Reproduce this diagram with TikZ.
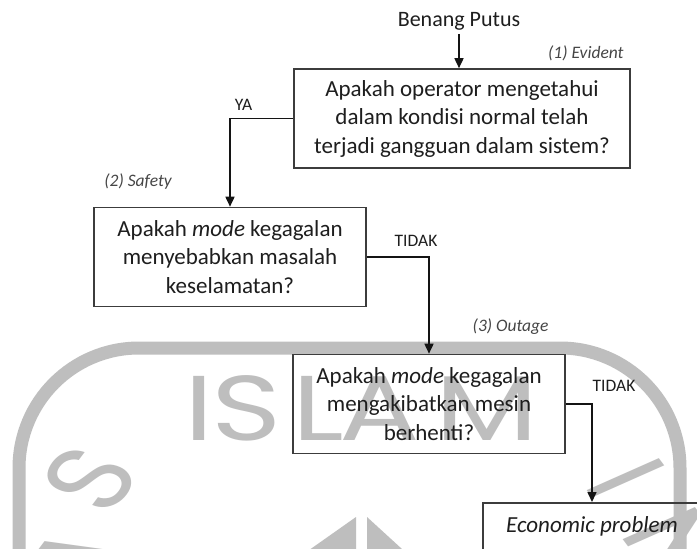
\documentclass[tikz,border=0pt]{standalone}
\usepackage{fontspec}
\setmainfont{Carlito}
\newfontfamily\wmfont{Poppins}
\usepackage{tikz}
\usetikzlibrary{arrows.meta, positioning}
\definecolor{LineColor}{RGB}{20, 20, 20}
\definecolor{BoxLine}{RGB}{60, 60, 60}
\definecolor{TextColor}{RGB}{30, 30, 30}
\definecolor{TagColor}{RGB}{70, 70, 70}
\definecolor{WmGrey}{RGB}{190, 190, 190}

\begin{document}
\begin{tikzpicture}[
        x=1pt, y=-1pt,
        % Styles globaux
        base/.style={align=center, inner sep=0pt},
        % Boites de question
        box_q/.style={base, draw=BoxLine, line width=1.6pt, minimum height=99pt, text=TextColor, font=\fontsize{23}{28.5}\selectfont},
        % Etiquettes (1), (2), (3)
        tag/.style={base, text=TagColor, font=\fontsize{17.5}{20}\itshape\selectfont},
        % Reponses YA / TIDAK
        answer/.style={base, anchor=base, text=TextColor, font=\fontsize{17.5}{20}\selectfont},
        % Fleches
        arrow/.style={-{Triangle[length=10pt, width=9pt]}, line width=1.6pt, LineColor},
        % Filigrane
        wmark/.style={WmGrey, line width=13pt},
        wmletter/.style={inner sep=0pt, xscale=1.3, text=WmGrey, font=\wmfont\fontsize{92}{92}\selectfont}
    ]

    \path[use as bounding box, fill=white] (0,0) rectangle (697,549);
    \clip (0,0) rectangle (697,549);

    % --- FILIGRANE ---
    \draw[wmark, rounded corners=120pt] (19,600) -- (19,348) -- (680,348) -- (680,600);
    \foreach \ch/\xx in {I/199, S/246.5, L/318, A/380, M/486.5}
        \node[wmletter, anchor=base] at (\xx,440) {\ch};
    \node[wmletter, rotate=60] at (90,479) {S};
    \node[wmletter, rotate=60] at (78,562) {A};
    \node[wmletter, rotate=-60] at (626,478) {I};
    \node[wmletter, rotate=-60] at (676,545) {N};
    \fill[WmGrey] (356,517) -- (356,560) -- (295,560) -- cycle;
    \fill[WmGrey] (367,517) -- (414,560) -- (367,560) -- cycle;

    % --- QUESTIONS ---
    \node[base, anchor=base, inner ysep=4pt, text=TextColor, font=\fontsize{22}{26}\selectfont] (start) at (459,26) {Benang Putus};
    \node[box_q, minimum width=336pt] (q1) at (462,118.5) {Apakah operator mengetahui\\dalam kondisi normal telah\\terjadi gangguan dalam sistem?};
    \node[box_q, minimum width=272pt] (q2) at (230,257) {Apakah \textit{mode} kegagalan\\menyebabkan masalah\\keselamatan?};
    \node[box_q, minimum width=272pt] (q3) at (429,404) {Apakah \textit{mode} kegagalan\\mengakibatkan mesin\\berhenti?};
    \node[box_q, anchor=north, minimum width=218pt, minimum height=0pt, inner ysep=13.5pt, text height=16pt, text depth=20pt] (econ) at (592,502) {\textit{Economic problem}};

    % --- ETIQUETTES ---
    \node[tag, above left=7pt and 7pt of q1.north east] (evident) {(1) Evident};
    \node[tag, above right=17.5pt and 11pt of q2.north west] (safety) {(2) Safety};
    \node[tag, above left=19.5pt and 17pt of q3.north east] (outage) {(3) Outage};
    \node[answer] (ya) at (243.5,110.8) {YA};
    \node[answer] (tidak1) at (416,246) {TIDAK};
    \node[answer] (tidak2) at (614,391.7) {TIDAK};

    % --- FLECHES ---
    \draw[arrow] (start.south) -- (start.south |- q1.north);
    \draw[arrow] (q1.west) -| (q2.north);
    \draw[arrow] (q2.east) -| (q3.north);
    \draw[arrow] (q3.east) -| (econ.north);

\end{tikzpicture}
\end{document}
